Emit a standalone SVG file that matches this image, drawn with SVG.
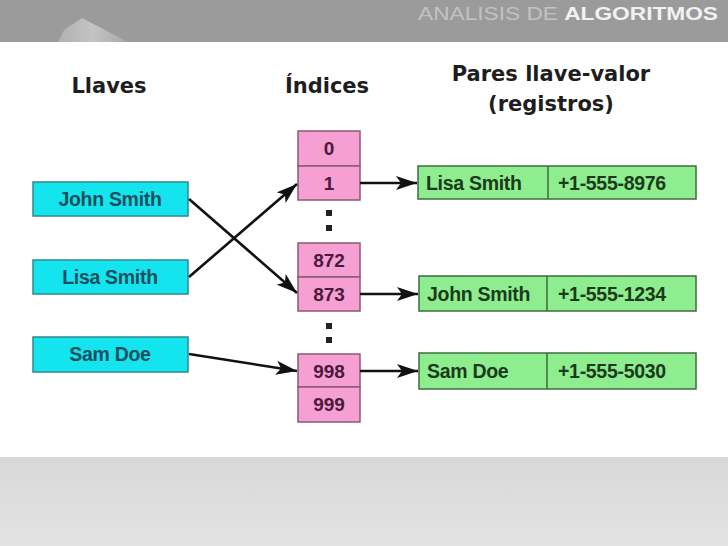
<svg xmlns="http://www.w3.org/2000/svg" width="728" height="546" viewBox="0 0 728 546">
<style>
.hdr{font-family:"DejaVu Sans",sans-serif;font-weight:bold;font-size:21px;fill:#1e1e1e;text-anchor:middle}
.key rect{fill:#14e4ee;stroke:#2f8a8c;stroke-width:1.5}
.key text{font-family:"Liberation Sans",sans-serif;font-weight:bold;font-size:19.5px;fill:#1d4f5e;text-anchor:middle;letter-spacing:-0.3px}
.idx rect{fill:#f59fd3;stroke:#8a5a74;stroke-width:1.5}
.idx text{font-family:"Liberation Sans",sans-serif;font-weight:bold;font-size:19px;fill:#4a1a3c;text-anchor:middle}
.rec rect,.rec line{fill:#8eed8e;stroke:#3e6a40;stroke-width:1.5}
.rec text{font-family:"Liberation Sans",sans-serif;font-weight:bold;font-size:19.5px;fill:#1c3a1c;letter-spacing:-0.3px}
.dot{fill:#222}
#connectors path{stroke:#111;stroke-width:2.6;fill:none;marker-end:url(#ah)}
</style>
<defs>
<marker id="ah" markerWidth="24" markerHeight="14" refX="21" refY="7" orient="auto" markerUnits="userSpaceOnUse">
<path d="M0,0 L21,7 L0,14 L5,7 Z" fill="#111"/>
</marker>
<linearGradient id="bot" x1="0" y1="0" x2="0" y2="1">
<stop offset="0" stop-color="#d8d8d8"/>
<stop offset="1" stop-color="#e3e3e3"/>
</linearGradient>
<linearGradient id="pyr" x1="0" y1="0" x2="1" y2="0">
<stop offset="0" stop-color="#b0b0b0"/>
<stop offset="0.5" stop-color="#c4c4c4"/>
<stop offset="1" stop-color="#a6a6a6"/>
</linearGradient>
</defs>
<rect x="0" y="0" width="728" height="546" fill="#ffffff"/>
<rect x="0" y="0" width="728" height="42" fill="#9b9b9b"/>
<polygon points="58,42 64,30 82,18 128,42" fill="url(#pyr)"/>
<text x="418" y="20" font-family="Liberation Sans,sans-serif" font-size="18" textLength="300" lengthAdjust="spacingAndGlyphs"><tspan fill="#c2c2c2">ANALISIS DE </tspan><tspan fill="#f2f2f2" font-weight="bold">ALGORITMOS</tspan></text>
<rect x="0" y="457" width="728" height="89" fill="url(#bot)"/>

<text class="hdr" x="109" y="93">Llaves</text>
<text class="hdr" x="327" y="93">Índices</text>
<text class="hdr" x="551" y="81">Pares llave-valor</text>
<text class="hdr" x="551" y="111">(registros)</text>

<g id="key-john" class="key"><rect x="33" y="182" width="155" height="34"/><text x="110" y="206">John Smith</text></g>
<g id="key-lisa" class="key"><rect x="33" y="260" width="155" height="34"/><text x="110" y="284">Lisa Smith</text></g>
<g id="key-sam" class="key"><rect x="33" y="337" width="155" height="35"/><text x="110" y="361">Sam Doe</text></g>

<g id="idx-0" class="idx"><rect x="298" y="131" width="62" height="35"/><text x="329" y="155">0</text></g>
<g id="idx-1" class="idx"><rect x="298" y="166" width="62" height="34"/><text x="329" y="190">1</text></g>
<g id="dots-1"><rect class="dot" x="326" y="210" width="6" height="6"/><rect class="dot" x="326" y="225" width="6" height="6"/></g>
<g id="idx-872" class="idx"><rect x="298" y="243" width="62" height="34"/><text x="329" y="267">872</text></g>
<g id="idx-873" class="idx"><rect x="298" y="277" width="62" height="34"/><text x="329" y="301">873</text></g>
<g id="dots-2"><rect class="dot" x="326" y="323" width="6" height="6"/><rect class="dot" x="326" y="337" width="6" height="6"/></g>
<g id="idx-998" class="idx"><rect x="298" y="354" width="62" height="33"/><text x="329" y="378">998</text></g>
<g id="idx-999" class="idx"><rect x="298" y="387" width="62" height="35"/><text x="329" y="411">999</text></g>

<g id="rec-lisa" class="rec"><rect x="418" y="166" width="278" height="33"/><line x1="548" y1="166" x2="548" y2="199"/><text x="426" y="190">Lisa Smith</text><text x="558" y="190">+1-555-8976</text></g>
<g id="rec-john" class="rec"><rect x="419" y="276" width="277" height="35"/><line x1="547" y1="276" x2="547" y2="311"/><text x="427" y="301">John Smith</text><text x="558" y="301">+1-555-1234</text></g>
<g id="rec-sam" class="rec"><rect x="419" y="353" width="277" height="36"/><line x1="547" y1="353" x2="547" y2="389"/><text x="427" y="378">Sam Doe</text><text x="558" y="378">+1-555-5030</text></g>

<g id="connectors">
<path d="M189,199 L297,293"/>
<path d="M189,277 L297,184"/>
<path d="M189,354 L297,371"/>
<path d="M360,183 L417,183"/>
<path d="M360,294 L418,294"/>
<path d="M360,371 L418,371"/>
</g>
</svg>
